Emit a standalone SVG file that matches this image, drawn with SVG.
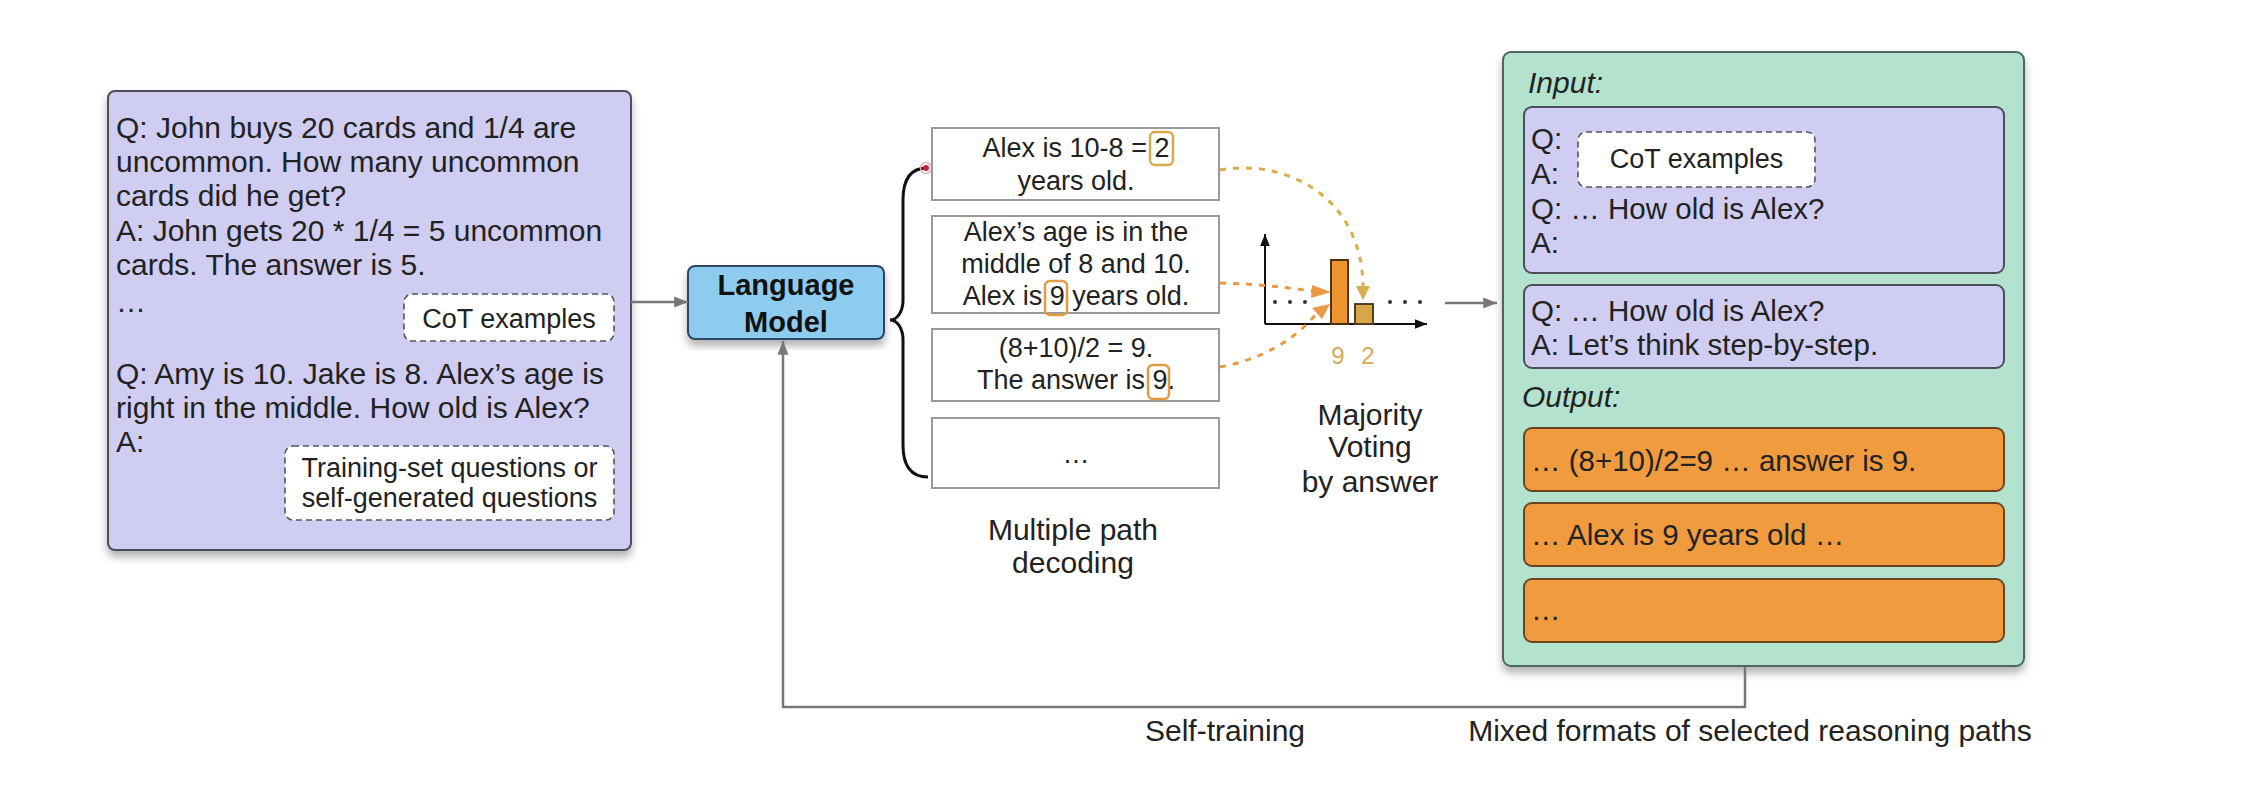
<svg xmlns="http://www.w3.org/2000/svg" width="2248" height="792" viewBox="0 0 2248 792">
<defs>
<style>
text{font-family:"Liberation Sans",Arial,Helvetica,sans-serif;fill:#222}
.t30{font-size:29.5px}
.tl{font-size:30px}
.t27{font-size:27px}
.lbl{font-size:30px;text-anchor:middle}
.mid{text-anchor:middle}
.ital{font-style:italic;font-size:30px}
.lav{fill:#cfcef2;stroke:#4d4d5c;stroke-width:2}
.org{fill:#f09b3d;stroke:#6e4420;stroke-width:2}
.path{fill:#fff;stroke:#9a9a9a;stroke-width:2}
.dash{fill:#fff;stroke:#555;stroke-width:1.6;stroke-dasharray:6 4}
.hl{fill:none;stroke-width:2.5}
.conn{fill:none;stroke:#777;stroke-width:2.5}
.vote{fill:none;stroke-width:3;stroke-dasharray:6 7}
</style>
<filter id="sh" x="-10%" y="-10%" width="120%" height="125%">
<feDropShadow dx="0" dy="6" stdDeviation="4" flood-color="#000" flood-opacity="0.3"/>
</filter>
<marker id="ag" viewBox="0 0 10 10" refX="10" refY="5" markerWidth="5.5" markerHeight="5.5" orient="auto" markerUnits="strokeWidth">
<path d="M0,1 L10,5 L0,9 z" fill="#777"/>
</marker>
<marker id="ab" viewBox="0 0 10 10" refX="10" refY="5" markerWidth="6" markerHeight="6" orient="auto" markerUnits="strokeWidth">
<path d="M0,1 L10,5 L0,9 z" fill="#111"/>
</marker>
</defs>
<rect width="2248" height="792" fill="#fff"/>

<g id="input-prompt">
<rect x="108" y="91" width="523" height="459" rx="7" class="lav" filter="url(#sh)"/>
<text class="tl" x="116" y="138">Q: John buys 20 cards and 1/4 are</text>
<text class="tl" x="116" y="172">uncommon. How many uncommon</text>
<text class="tl" x="116" y="206">cards did he get?</text>
<text class="tl" x="116" y="241">A: John gets 20 * 1/4 = 5 uncommon</text>
<text class="tl" x="116" y="275">cards. The answer is 5.</text>
<text class="tl" x="116" y="312">…</text>
<text class="tl" x="116" y="384">Q: Amy is 10. Jake is 8. Alex’s age is</text>
<text class="tl" x="116" y="418">right in the middle. How old is Alex?</text>
<text class="tl" x="116" y="452">A:</text>
<g id="cot-label-left">
<rect x="404" y="294" width="210" height="47" rx="8" class="dash"/>
<text class="t27 mid" x="509" y="328">CoT examples</text>
</g>
<g id="questions-label">
<rect x="285" y="446" width="329" height="74" rx="8" class="dash"/>
<text class="t27 mid" x="449.5" y="477">Training-set questions or</text>
<text class="t27 mid" x="449.5" y="507">self-generated questions</text>
</g>
</g>

<g id="language-model">
<rect x="688" y="266" width="196" height="73" rx="7" fill="#8dccee" stroke="#2c4766" stroke-width="2" filter="url(#sh)"/>
<text x="786" y="295" class="mid" style="font-size:29px;font-weight:bold;fill:#111">Language</text>
<text x="786" y="332" class="mid" style="font-size:29px;font-weight:bold;fill:#111">Model</text>
</g>

<g id="brace">
<path d="M927,168 C910,168 903,180 903,200 L903,300 C903,312 897,320 890,320 C897,320 903,328 903,340 L903,445 C903,465 910,477 928,477" fill="none" stroke="#111" stroke-width="3"/>
<circle cx="926" cy="168" r="5.5" fill="none" stroke="#e9b0b8" stroke-width="1.5"/>
<circle cx="926" cy="168" r="3" fill="#d0203e"/>
</g>

<g id="path-1">
<rect x="932" y="128" width="287" height="72" class="path"/>
<text class="t27 mid" x="1076" y="157">Alex is 10-8 = 2</text>
<text class="t27 mid" x="1076" y="190">years old.</text>
<rect x="1150" y="132" width="23" height="33" rx="5" class="hl" stroke="#d9a94e"/>
</g>
<g id="path-2">
<rect x="932" y="216" width="287" height="97" class="path"/>
<text class="t27 mid" x="1076" y="241">Alex’s age is in the</text>
<text class="t27 mid" x="1076" y="273">middle of 8 and 10.</text>
<text class="t27 mid" x="1076" y="305">Alex is 9 years old.</text>
<rect x="1045" y="281" width="22" height="34" rx="5" class="hl" stroke="#e39a42"/>
</g>
<g id="path-3">
<rect x="932" y="329" width="287" height="72" class="path"/>
<text class="t27 mid" x="1076" y="357">(8+10)/2 = 9.</text>
<text class="t27 mid" x="1076" y="389">The answer is 9.</text>
<rect x="1148" y="365" width="21" height="34" rx="5" class="hl" stroke="#e39a42"/>
</g>
<g id="path-4">
<rect x="932" y="418" width="287" height="70" class="path"/>
<text class="t27 mid" x="1076" y="463">…</text>
</g>
<g id="label-decoding">
<text class="lbl" x="1073" y="540">Multiple path</text>
<text class="lbl" x="1073" y="573">decoding</text>
</g>

<g id="voting-chart">
<line x1="1265" y1="324" x2="1265" y2="234" stroke="#111" stroke-width="2" marker-end="url(#ab)"/>
<line x1="1265" y1="324" x2="1427" y2="324" stroke="#111" stroke-width="2" marker-end="url(#ab)"/>
<rect x="1331" y="260" width="17" height="64" fill="#f0952e" stroke="#4f3218" stroke-width="2"/>
<rect x="1355" y="304" width="18" height="20" fill="#d6a647" stroke="#4f3f20" stroke-width="2"/>
<g fill="#333">
<circle cx="1275" cy="302" r="2"/><circle cx="1290" cy="302" r="2"/><circle cx="1305" cy="302" r="2"/>
<circle cx="1390" cy="302" r="2"/><circle cx="1405" cy="302" r="2"/><circle cx="1420" cy="302" r="2"/>
</g>
<text x="1338" y="364" class="mid" style="font-size:24px;fill:#d9a955">9</text>
<text x="1368" y="364" class="mid" style="font-size:24px;fill:#d9a955">2</text>
</g>
<g id="label-voting">
<text class="lbl" x="1370" y="425">Majority</text>
<text class="lbl" x="1370" y="457">Voting</text>
<text class="lbl" x="1370" y="492">by answer</text>
</g>

<g id="training-data">
<rect x="1503" y="52" width="521" height="614" rx="8" fill="#b3e3cf" stroke="#4d665a" stroke-width="2" filter="url(#sh)"/>
<text class="ital" x="1528" y="93">Input:</text>
<g id="input-1">
<rect x="1524" y="107" width="480" height="166" rx="8" class="lav"/>
<text class="t30" x="1531" y="149">Q:</text>
<text class="t30" x="1531" y="184">A:</text>
<text class="t30" x="1531" y="219">Q: … How old is Alex?</text>
<text class="t30" x="1531" y="253">A:</text>
<rect x="1578" y="132" width="237" height="55" rx="8" class="dash"/>
<text class="t27 mid" x="1696.5" y="168">CoT examples</text>
</g>
<g id="input-2">
<rect x="1524" y="285" width="480" height="83" rx="8" class="lav"/>
<text class="t30" x="1531" y="321">Q: … How old is Alex?</text>
<text class="t30" x="1531" y="355">A: Let’s think step-by-step.</text>
</g>
<text class="ital" x="1522" y="407">Output:</text>
<g id="output-1">
<rect x="1524" y="428" width="480" height="63" rx="8" class="org"/>
<text class="t30" x="1531" y="471">… (8+10)/2=9 … answer is 9.</text>
</g>
<g id="output-2">
<rect x="1524" y="503" width="480" height="63" rx="8" class="org"/>
<text class="t30" x="1531" y="545">… Alex is 9 years old …</text>
</g>
<g id="output-3">
<rect x="1524" y="579" width="480" height="63" rx="8" class="org"/>
<text class="t30" x="1531" y="620">…</text>
</g>
</g>

<g id="connectors">
<line x1="631" y1="302" x2="688" y2="302" class="conn" marker-end="url(#ag)"/>
<line x1="1445" y1="303" x2="1497" y2="303" class="conn" marker-end="url(#ag)"/>
<polyline points="1745,667 1745,707 783,707 783,341" class="conn" stroke="#888" marker-end="url(#ag)"/>
<path d="M1220,170 C1290,158 1362,200 1363,286" class="vote" stroke="#d9ac4c"/>
<polygon points="1356,286 1370,286 1363,300" fill="#d9ac4c"/>
<path d="M1220,283 C1260,284 1290,288 1312,291" class="vote" stroke="#ea9a45"/>
<polygon points="1312,285 1331,292 1311,298" fill="#ea9a45"/>
<path d="M1220,367 C1260,360 1295,340 1316,314" class="vote" stroke="#ea9a45"/>
<polygon points="1312,308 1330,304 1322,319" fill="#ea9a45"/>
</g>

<g id="bottom-labels">
<text class="lbl" x="1225" y="741">Self-training</text>
<text class="lbl" x="1750" y="741">Mixed formats of selected reasoning paths</text>
</g>
</svg>
